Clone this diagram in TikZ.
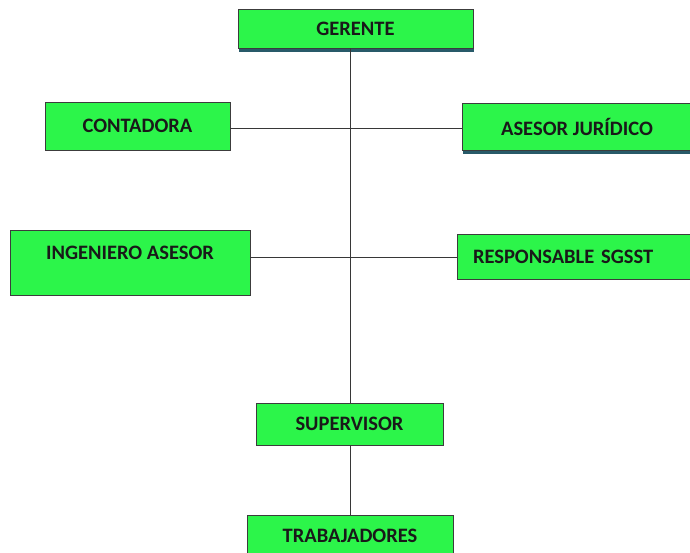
\documentclass[tikz,border=0pt]{standalone}
\usepackage{fontspec}
\setmainfont{Carlito}
\definecolor{boxgreen}{RGB}{44,245,74}
\definecolor{boxline}{RGB}{60,60,60}
\definecolor{shadowteal}{RGB}{40,90,105}
\definecolor{wire}{RGB}{55,55,55}
\begin{document}
\begin{tikzpicture}[x=1pt,y=-1pt,
  box/.style={draw=boxline, line width=0.9pt, fill=boxgreen, rectangle, inner sep=0pt,
    font=\fontsize{20.5}{22}\selectfont\bfseries, text=black!90},
  shadowed/.style={box, preaction={fill=shadowteal, transform canvas={yshift=-3.5pt, xshift=1pt}}},
  wireline/.style={draw=wire, line width=1pt}]
\useasboundingbox (0,0) rectangle (690,552);
% boxes (centre, width, height in px)
\node[shadowed, minimum width=235, minimum height=39] (ger) at (355.5,28.5) {GERENTE};
\node[box, minimum width=185, minimum height=48] (con) at (137.5,126) {CONTADORA};
\node[shadowed, minimum width=230, minimum height=47] (ase) at (577,126.5) {ASESOR JURÍDICO};
\node[box, minimum width=240, minimum height=65, text depth=19pt] (ing) at (130,262.5) {INGENIERO ASESOR};
\node[box, text width=203, inner xsep=16pt, align=left, minimum height=45] (res) at (574.5,256.5) {RESPONSABLE SGSST};
\node[box, minimum width=187, minimum height=42] (sup) at (349.5,424) {SUPERVISOR};
\node[box, minimum width=206, minimum height=42] (tra) at (350,536) {TRABAJADORES};
% connectors
\coordinate (j1) at (350,128.3);
\coordinate (j2) at (350,257.3);
\draw[wireline] (ger.south -| j1) -- (sup.north -| j1);
\draw[wireline] (sup.south -| j1) -- (tra.north -| j1);
\draw[wireline] (con.east |- j1) -- (ase.west |- j1);
\draw[wireline] (ing.east |- j2) -- (res.west |- j2);
\end{tikzpicture}
\end{document}
